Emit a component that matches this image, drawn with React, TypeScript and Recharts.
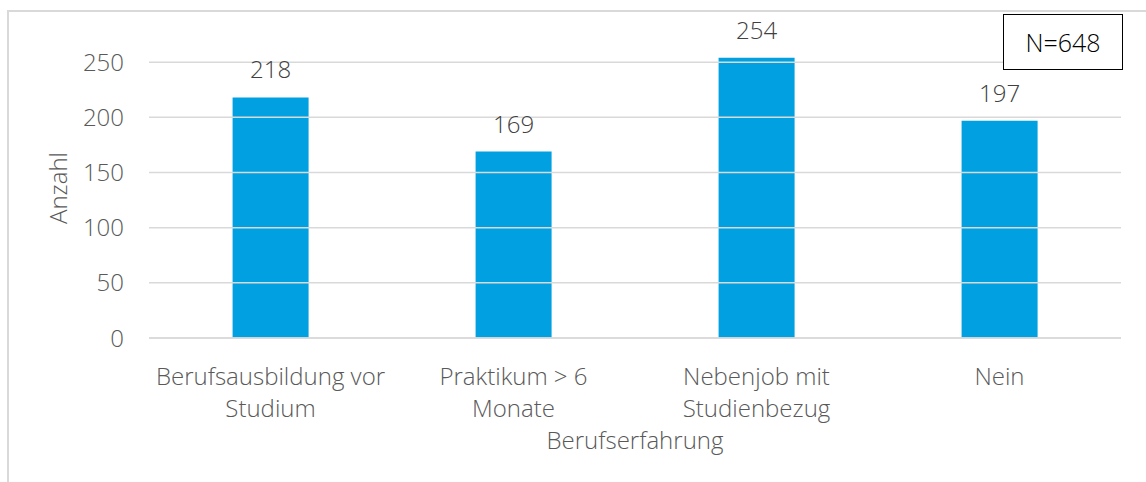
import React from "react";
import { BarChart, Bar, XAxis, YAxis, ReferenceLine, LabelList, Label } from "recharts";

const categories = ["Berufsausbildung vor Studium", "Praktikum > 6 Monate", "Nebenjob mit Studienbezug", "Nein"];
const tickLabelLines = [["Berufsausbildung vor", "Studium"], ["Praktikum > 6", "Monate"], ["Nebenjob mit", "Studienbezug"], ["Nein"]];
const counts = [218, 169, 254, 197];
const yTicks = [0, 50, 100, 150, 200, 250];
const yDomainMax = 300;
const xTitle = "Berufserfahrung";
const yTitle = "Anzahl";
const noteText = "N=648";

const data = categories.map((c, i) => ({ name: c, value: counts[i], idx: i }));

const FONT = "'Open Sans', 'Noto Sans', sans-serif";
const AXIS_COLOR = "#595959";
const WEIGHT = 350;

const CategoryTick = (props: any) => {
  const { x, y, payload } = props;
  const lines = tickLabelLines[payload.index] || [String(payload.value)];
  return (
    <text x={x} y={y} textAnchor="middle" fill={AXIS_COLOR} fontFamily={FONT} fontSize={24} fontWeight={WEIGHT}>
      {lines.map((l: string, i: number) => (
        <tspan key={i} x={x} dy={i === 0 ? 39 : 32}>{l}</tspan>
      ))}
    </text>
  );
};

const YTitle = (props: any) => {
  const vb = props.viewBox;
  const cx = vb.x + 67;
  const cy = 188;
  return (
    <text x={cx} y={cy} transform={`rotate(-90, ${cx}, ${cy})`} textAnchor="middle" fill={AXIS_COLOR} fontFamily={FONT} fontSize={24} fontWeight={WEIGHT}>
      {yTitle}
    </text>
  );
};

export default function App() {
  return (
    <div style={{ position: "absolute", left: 0, top: 0, width: 1146, height: 482, background: "#fff", overflow: "hidden" }}>
      <div style={{ position: "absolute", left: 7, top: 10, width: 1200, height: 600, border: "2px solid #d9d9d9", boxSizing: "border-box" }} />
      <div style={{ position: "absolute", left: 0, top: 0 }}>
        <BarChart width={1146} height={482} data={data} margin={{ top: 7, right: 25, bottom: 0, left: 0 }} barCategoryGap="34.4%">
          <XAxis
            dataKey="name"
            height={144}
            tickLine={false}
            axisLine={{ stroke: "#d9d9d9", strokeWidth: 1.5 }}
            tick={<CategoryTick />}
            interval={0}
          >
            <Label value={xTitle} position="insideBottom" offset={33} fill={AXIS_COLOR} fontFamily={FONT} fontSize={24} fontWeight={WEIGHT} />
          </XAxis>
          <YAxis
            width={149}
            domain={[0, yDomainMax]}
            ticks={yTicks}
            tickLine={false}
            axisLine={false}
            tickSize={0}
            tickMargin={25}
            tick={{ fill: AXIS_COLOR, fontFamily: FONT, fontSize: 24, fontWeight: WEIGHT }}
          >
            <Label content={<YTitle />} />
          </YAxis>
          {yTicks.map((t) => (
            <ReferenceLine key={t} y={t} stroke="#d9d9d9" strokeWidth={1.5} />
          ))}
          <Bar dataKey="value" fill="#00A0E1" isAnimationActive={false}>
            <LabelList dataKey="value" position="top" offset={19} fill="#404040" fontFamily={FONT} fontSize={24} fontWeight={WEIGHT} />
          </Bar>
        </BarChart>
      </div>
      <div style={{ position: "absolute", left: 1003, top: 14, width: 120, height: 56, border: "1px solid #000", boxSizing: "border-box", background: "#fff", display: "flex", alignItems: "center", justifyContent: "center", fontFamily: FONT, fontSize: 25, fontWeight: WEIGHT, color: "#000" }}>
        {noteText}
      </div>
    </div>
  );
}
